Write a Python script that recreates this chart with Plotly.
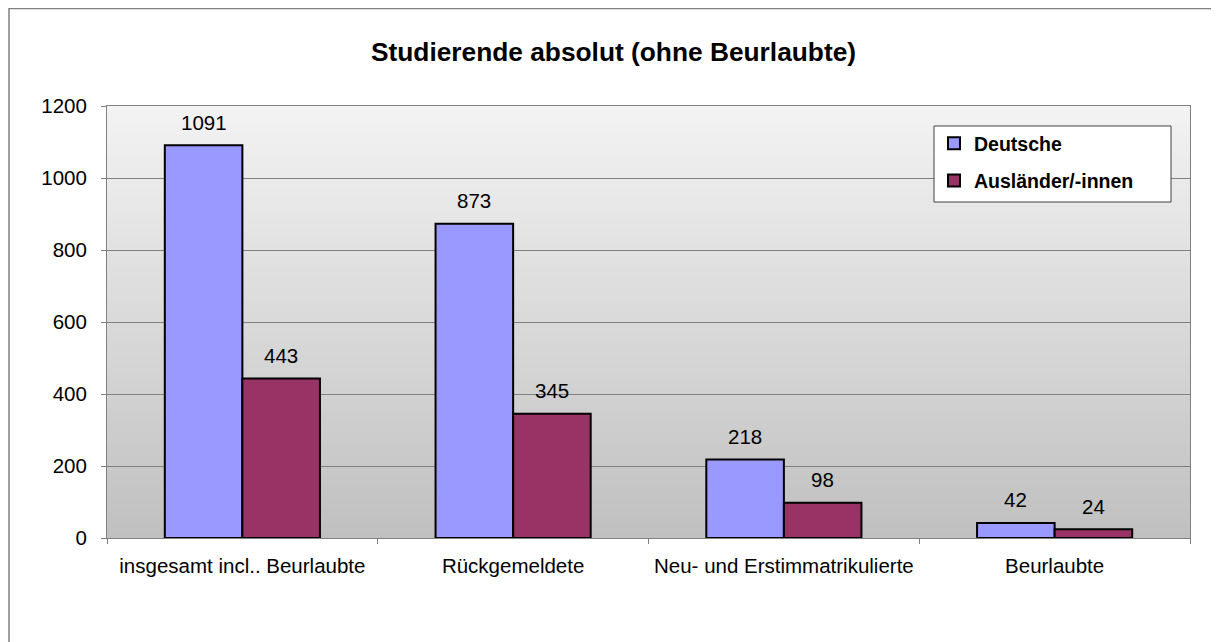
import plotly.graph_objects as go

categories = ["insgesamt incl.. Beurlaubte", "Rückgemeldete", "Neu- und Erstimmatrikulierte", "Beurlaubte"]
deutsche = [1091, 873, 218, 42]
auslaender = [443, 345, 98, 24]
series_names = ["Deutsche", "Ausländer/-innen"]
y_ticks = [0, 200, 400, 600, 800, 1000, 1200]

FONT = "Liberation Sans, Arial, sans-serif"
FS = 20.5

W, H = 1211, 634          # figure size (page has 8px body margin)
ML, MR, MT, MB = 99, 29, 98, 104
PW = W - ML - MR
PH = H - MT - MB
BARGAP = 0.427
half_bar = PW / len(categories) * (1 - BARGAP) / 4

def px_x(page_x):
    return (page_x - 8 - ML) / PW

def px_y(page_y):
    return (PH + MT - (page_y - 8)) / PH

fig = go.Figure()
colors = ["#9999FF", "#993366"]
series = [deutsche, auslaender]
for k, (name, vals) in enumerate(zip(series_names, series)):
    fig.add_trace(go.Bar(
        x=categories, y=vals, name=name, legendgroup=name,
        marker=dict(color=colors[k], line=dict(color="black", width=2)),
    ))

# value labels above bars
annotations = []
for k, vals in enumerate(series):
    for cat, v in zip(categories, vals):
        annotations.append(dict(
            x=cat, y=v, xref="x", yref="y", text=str(v), showarrow=False,
            xshift=(-1 if k == 0 else 1) * half_bar, yshift=23, yanchor="middle",
            font=dict(size=FS, family=FONT, color="black"),
        ))

# gradient background of plot area
shapes = []
N = 90
top = (243, 243, 243)
bot = (192, 192, 192)
for i in range(N):
    t = (i + 0.5) / N
    c = tuple(round(top[j] + (bot[j] - top[j]) * t) for j in range(3))
    shapes.append(dict(
        type="rect", xref="x domain", yref="y domain",
        x0=0, x1=1, y0=1 - (i + 1) / N, y1=min(1, 1 - i / N + 0.002),
        fillcolor="rgb(%d,%d,%d)" % c, line=dict(width=0), layer="below",
    ))
# outer chart border (only top/left edges visible in the window)
shapes.append(dict(
    type="rect", xref="paper", yref="paper",
    x0=px_x(9), x1=px_x(1260), y0=px_y(700), y1=px_y(8.5),
    line=dict(color="#808080", width=1.5), fillcolor="rgba(0,0,0,0)", layer="below",
))
# legend box
shapes.append(dict(
    type="rect", xref="paper", yref="paper",
    x0=px_x(934), x1=px_x(1171), y0=px_y(202), y1=px_y(126),
    line=dict(color="#404040", width=1), fillcolor="white", layer="above",
))

fig.update_layout(
    width=W, height=H,
    margin=dict(l=ML, r=MR, t=MT, b=MB),
    paper_bgcolor="white", plot_bgcolor="#c0c0c0",
    font=dict(family=FONT, size=FS, color="black"),
    title=dict(text="<b>Studierende absolut (ohne Beurlaubte)</b>", x=0.5, xanchor="center",
               xref="container", y=1 - 44 / H, yanchor="middle",
               font=dict(size=26.3, family=FONT, color="black")),
    barmode="group", bargap=BARGAP, bargroupgap=0,
    showlegend=True,
    legend=dict(
        x=px_x(934), y=px_y(124), xanchor="left", yanchor="top",
        bgcolor="rgba(0,0,0,0)", borderwidth=0,
        font=dict(size=19.5, family=FONT, color="black", weight="bold"),
        tracegroupgap=9, itemwidth=30,
    ),
    shapes=shapes,
    annotations=annotations,
)
fig.update_xaxes(
    showline=True, linecolor="#808080", linewidth=1, mirror=True,
    ticks="outside", tickson="boundaries", ticklen=5, tickcolor="#808080",
    tickfont=dict(size=FS, family=FONT), ticklabelstandoff=9,
    showgrid=False,
)
fig.update_yaxes(
    range=[0, 1200], tickvals=y_ticks, showline=True, linecolor="#808080", linewidth=1, mirror=True,
    ticks="outside", ticklen=5, tickcolor="#808080",
    tickfont=dict(size=FS, family=FONT), ticklabelstandoff=10,
    showgrid=True, gridcolor="#808080", gridwidth=1, zeroline=False,
)

fig.write_html("out.html")
